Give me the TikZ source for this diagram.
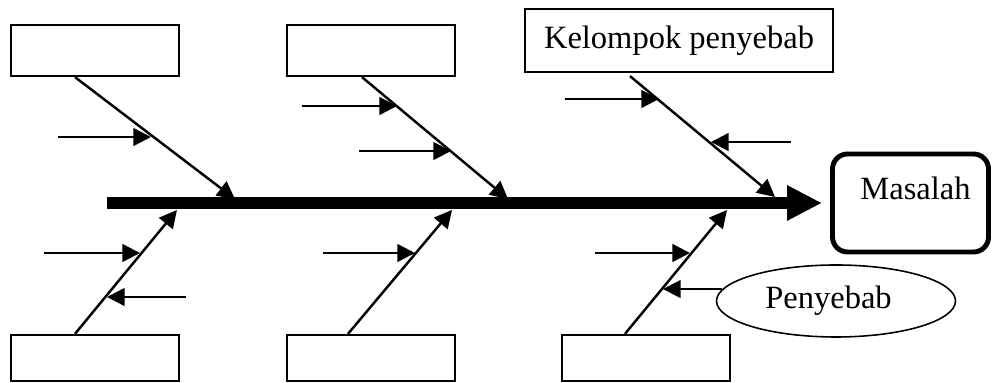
\documentclass[tikz,border=0pt]{standalone}
\usepackage{fontspec}
\setmainfont{Liberation Serif}
\usetikzlibrary{positioning,shapes,arrows.meta,calc}

\tikzset{
  kelompok/.style={draw, line width=1.3pt, minimum width=3.36cm, minimum height=1.02cm, inner sep=0pt},
  panah/.style={line width=1.4pt, -{Triangle[length=10pt,width=10pt]}},
}

\begin{document}
\begin{tikzpicture}[font=\fontsize{18.5}{22}\selectfont]
\useasboundingbox (0,0) rectangle (19.84,7.66);

% Kepala ikan (masalah) dan tulang utama
\node[draw, line width=2.8pt, rounded corners=0.3cm, minimum width=3.12cm, minimum height=1.96cm] (masalah) at (18.21,3.6) {\hspace{2mm}Masalah\rule[-6mm]{0pt}{0pt}};
\coordinate (ekor) at (2.14,3.6);
\draw[line width=7pt, -{Triangle[length=0.7cm,width=0.66cm]}] (ekor) -- ([xshift=-1.6mm]masalah.west);

% Kotak kelompok penyebab atas
\node[kelompok] (k1) at (1.9,6.65) {};
\node[kelompok] (k2) at (7.42,6.65) {};
\node[kelompok, minimum width=6.16cm, minimum height=1.26cm] (k3) at (13.58,6.85) {Kelompok penyebab};

% Kotak kelompok penyebab bawah
\node[kelompok, minimum height=0.92cm] (k4) at (1.9,0.5) {};
\node[kelompok, minimum height=0.92cm] (k5) at (7.42,0.5) {};
\node[kelompok, minimum height=0.92cm] (k6) at (12.92,0.5) {};

% Titik temu tulang di tulang utama
\coordinate (s1) at (4.7,3.68);
\coordinate (s2) at (10.16,3.68);
\coordinate (s3) at (15.5,3.72);
\coordinate (s4) at (3.54,3.46);
\coordinate (s5) at (9.04,3.46);
\coordinate (s6) at (14.54,3.46);

% Tulang miring
\draw[panah] ([xshift=-0.4cm]k1.south) -- (s1);
\draw[panah] ([xshift=-0.18cm]k2.south) -- (s2);
\draw[panah] ([xshift=-0.98cm,yshift=-0.06cm]k3.south) -- (s3);
\draw[panah] ([xshift=-0.4cm]k4.north) -- (s4);
\draw[panah] ([xshift=-0.46cm]k5.north) -- (s5);
\draw[panah] ([xshift=-0.42cm]k6.north) -- (s6);

% Panah penyebab kecil
\foreach \n/\a/\b/\y in {1/1.16/3.02/4.92, 2/6.04/7.94/5.54, 3/7.18/9.02/4.64,
    4/11.3/13.18/5.68, 5/15.82/14.22/4.82, 6/0.88/2.8/2.6, 7/3.72/2.14/1.72,
    8/6.46/8.3/2.6, 9/11.9/13.8/2.6} {
  \coordinate (c\n) at (\a,\y);
  \coordinate (t\n) at (\b,\y);
  \draw[panah] (c\n) -- (t\n);
}

% Penyebab
\node[draw, ellipse, line width=0.9pt, minimum width=4.78cm, minimum height=1.44cm, inner sep=0pt] (penyebab) at (16.72,1.64) {\hspace{-3mm}Penyebab};
\coordinate (t10) at (13.26,1.88);
\draw[panah] (penyebab.174) -- (t10 |- penyebab.174);

\end{tikzpicture}
\end{document}
